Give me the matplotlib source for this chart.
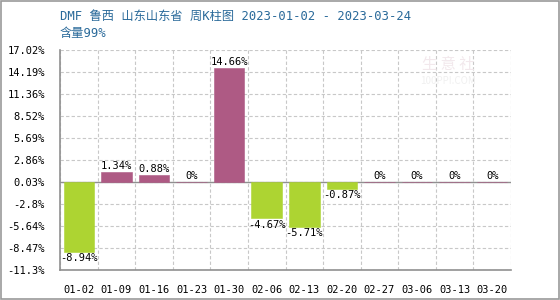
import numpy as np
import matplotlib
matplotlib.use("Agg")
from matplotlib import pyplot as plt
from matplotlib.patches import Rectangle

plt.rcParams["font.family"] = ["Noto Sans CJK SC", "DejaVu Sans"]

# 数据
dates = ["01-02", "01-09", "01-16", "01-23", "01-30", "02-06",
         "02-13", "02-20", "02-27", "03-06", "03-13", "03-20"]
changes = [-8.94, 1.34, 0.88, 0, 14.66, -4.67, -5.71, -0.87, 0, 0, 0, 0]
yticks = [-11.3, -8.47, -5.64, -2.8, 0.03, 2.86, 5.69, 8.52, 11.36, 14.19, 17.02]
ytick_labels = ["-11.3%", "-8.47%", "-5.64%", "-2.8%", "0.03%", "2.86%",
                "5.69%", "8.52%", "11.36%", "14.19%", "17.02%"]

up_color = "#ae5a84"
down_color = "#add432"
mono = "DejaVu Sans Mono"
title_fam = ["DejaVu Sans Mono", "Noto Sans CJK SC"]

fig = plt.figure(figsize=(5.6, 3.0), dpi=100)
ax = fig.add_axes([60 / 560, 30 / 300, 451 / 560, 220 / 300])

x = np.arange(len(dates))
colors = [up_color if v >= 0 else down_color for v in changes]
ax.bar(x, changes, width=0.81, color=colors, edgecolor=colors, linewidth=0.4, zorder=3)

# 数值标签
for xi, v in zip(x, changes):
    txt = f"{v:g}%"
    if v >= 0:
        ax.text(xi, v + 0.15, txt, ha="center", va="bottom", fontsize=7.5,
                family=mono, zorder=4)
    else:
        ax.text(xi, v - 0.15, txt, ha="center", va="top", fontsize=7.5,
                family=mono, zorder=4)

ax.set_xlim(-0.5, len(dates) - 0.5)
ax.set_ylim(yticks[0], yticks[-1])
ax.set_yticks(yticks)
ax.set_yticklabels(ytick_labels, family=mono, fontsize=7.5)
ax.set_xticks(x)
ax.set_xticklabels(dates, family=mono, fontsize=7.5)
ax.set_xticks(np.arange(len(dates) + 1) - 0.5, minor=True)
ax.tick_params(axis="both", which="both", length=0)
ax.tick_params(axis="x", pad=11)
ax.tick_params(axis="y", pad=11)

ax.grid(True, which="minor", axis="x", color="#c8c8c8", linestyle=(0, (3, 2)), linewidth=0.8)
ax.grid(True, which="major", axis="y", color="#c8c8c8", linestyle=(0, (3, 2)), linewidth=0.8)
ax.set_axisbelow(True)
ax.axhline(0, color="#909090", linewidth=1.0, zorder=2)

for s in ["top", "right"]:
    ax.spines[s].set_visible(False)
for s in ["left", "bottom"]:
    ax.spines[s].set_color("#909090")
    ax.spines[s].set_linewidth(1.2)

# 标题
fig.text(60 / 560, 1 - 16 / 300, "DMF 鲁西 山东山东省 周K柱图 2023-01-02 - 2023-03-24",
         color="#2a6a9a", fontsize=8.8, va="center", ha="left", family=title_fam)
fig.text(60 / 560, 1 - 34 / 300, "含量99%", color="#2a6a9a", fontsize=8.8,
         va="center", ha="left", family=title_fam)

# 水印
fig.text(448 / 560, 1 - 64 / 300, "生 意 社", color="#f2e8ec", fontsize=11,
         ha="center", va="center", zorder=1)
fig.text(448 / 560, 1 - 81 / 300, "100PPI.COM", color="#f0f0f0", fontsize=7,
         ha="center", va="center", zorder=1)

# 外框
fig.patches.append(Rectangle((0.001, 0.002), 0.997, 0.995, transform=fig.transFigure,
                             fill=False, edgecolor="#999999", linewidth=1.2))

plt.savefig("out.png", dpi=100)
